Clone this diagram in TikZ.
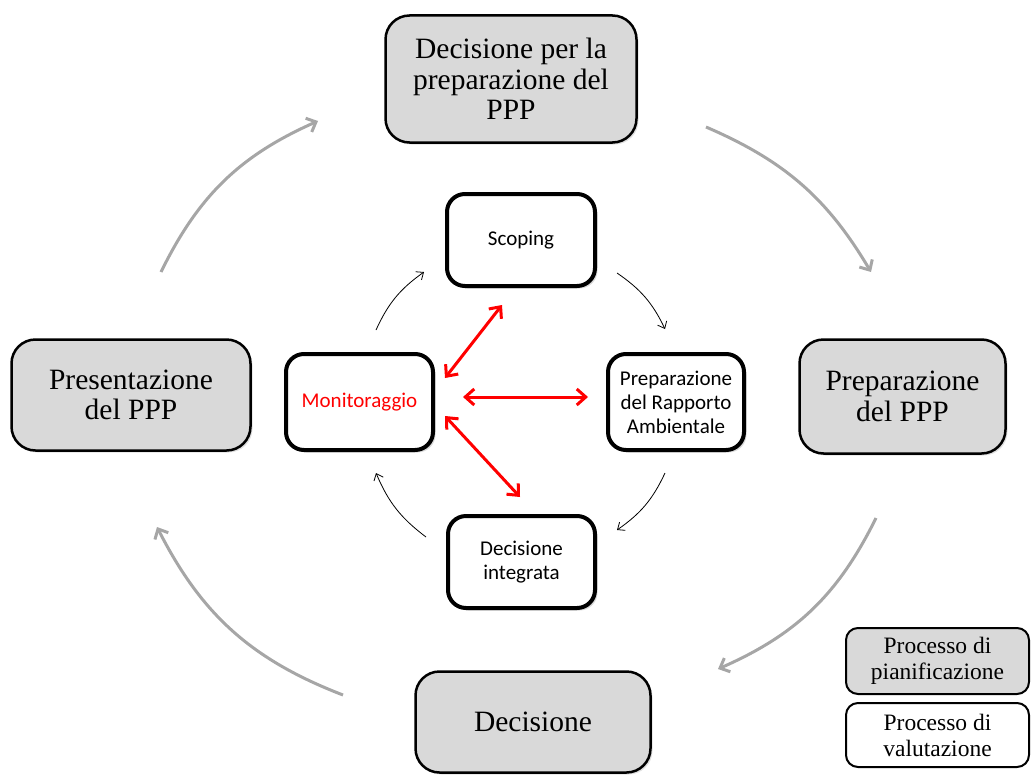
\documentclass[tikz,border=0pt]{standalone}
\usepackage{fontspec}
\setmainfont{Liberation Serif}
\newfontfamily\calfont{Carlito}
\usetikzlibrary{arrows.meta,shadows}
\definecolor{boxgray}{HTML}{D9D9D9}
\definecolor{arcgray}{HTML}{A6A6A6}
\definecolor{monred}{HTML}{FF0000}
\begin{document}
\begin{tikzpicture}[x=1pt,y=-1pt,
  outerbox/.style={draw=black, line width=2.5pt, fill=boxgray, rounded corners=24pt,
    align=center, inner sep=0pt, font=\fontsize{29.5}{30.5}\selectfont,
    drop shadow={opacity=0.25, shadow xshift=2pt, shadow yshift=-2pt}},
  innerbox/.style={draw=black, line width=4pt, fill=white, rounded corners=18pt,
    align=center, inner sep=0pt, font=\calfont\fontsize{21}{24}\selectfont,
    drop shadow={opacity=0.3, shadow xshift=2.5pt, shadow yshift=-2.5pt}},
  legbox/.style={draw=black, line width=2pt, rounded corners=12pt, align=center,
    inner sep=0pt, font=\fontsize{23.5}{26}\selectfont, minimum width=183pt},
  cyc/.style={draw=arcgray, line width=3pt, -{Straight Barb[length=8pt,width=15pt]}},
  thin/.style={draw=black, line width=0.8pt, -{Straight Barb[length=6pt,width=10pt]}},
  redarr/.style={draw=monred, line width=3pt, {Straight Barb[length=9pt,width=16pt]}-{Straight Barb[length=9pt,width=16pt]}}
]
\useasboundingbox (0,0) rectangle (1032,776);

% outer cycle (planning)
\node[outerbox, minimum width=251pt, minimum height=127pt] (top) at (511,79)
  {Decisione per la\\preparazione del\\PPP};
\node[outerbox, minimum width=239pt, minimum height=111pt] (left) at (131,395)
  {Presentazione\\del PPP};
\node[outerbox, minimum width=206pt, minimum height=114pt] (right) at (902.5,396.5)
  {Preparazione\\del PPP};
\node[outerbox, minimum width=235pt, minimum height=101pt] (bottom) at (533,722)
  {Decisione};

% inner cycle (evaluation)
\node[innerbox, minimum width=148pt, minimum height=92pt] (scop) at (521,240) {Scoping};
\node[innerbox, minimum width=147pt, minimum height=96pt, text=monred] (mon) at (359.5,402) {Monitoraggio};
\node[innerbox, minimum width=136pt, minimum height=96pt] (prep) at (676,402)
  {Preparazione\\del Rapporto\\Ambientale};
\node[innerbox, minimum width=147pt, minimum height=92pt] (dec) at (521.5,562)
  {Decisione\\integrata};

% legend
\node[legbox, fill=boxgray, minimum height=66pt] (leg1) at (937.5,661) {Processo di\\pianificazione};
\node[legbox, fill=white, minimum height=64pt] (leg2) at (937.5,735) {Processo di\\valutazione};

% gray arcs
\coordinate (g1a) at (161,272); \coordinate (g1b) at (318,121);
\coordinate (g2a) at (706,127); \coordinate (g2b) at (871,272);
\coordinate (g3a) at (876,518); \coordinate (g3b) at (718,669);
\coordinate (g4a) at (343,695); \coordinate (g4b) at (157,527);
\draw[cyc] (g1a) to[bend left=20] (g1b);
\draw[cyc] (g2a) to[bend left=18] (g2b);
\draw[cyc] (g3a) to[bend left=20] (g3b);
\draw[cyc] (g4a) to[bend left=21] (g4b);

% thin black arrows
\coordinate (t1a) at (376,330); \coordinate (t1b) at (424,272);
\coordinate (t2a) at (617,273); \coordinate (t2b) at (665,329);
\coordinate (t3a) at (665,473); \coordinate (t3b) at (617,530);
\coordinate (t4a) at (426,537); \coordinate (t4b) at (376,473);
\draw[thin] (t1a) to[bend left=15] (t1b);
\draw[thin] (t2a) to[bend left=15] (t2b);
\draw[thin] (t3a) to[bend left=15] (t3b);
\draw[thin] (t4a) to[bend left=15] (t4b);

% red double arrows
\coordinate (r1a) at (445,378); \coordinate (r1b) at (502,305);
\coordinate (r2a) at (463,397); \coordinate (r2b) at (588,397);
\coordinate (r3a) at (445,416); \coordinate (r3b) at (520,497);
\draw[redarr] (r1a) -- (r1b);
\draw[redarr] (r2a) -- (r2b);
\draw[redarr] (r3a) -- (r3b);
\end{tikzpicture}
\end{document}
